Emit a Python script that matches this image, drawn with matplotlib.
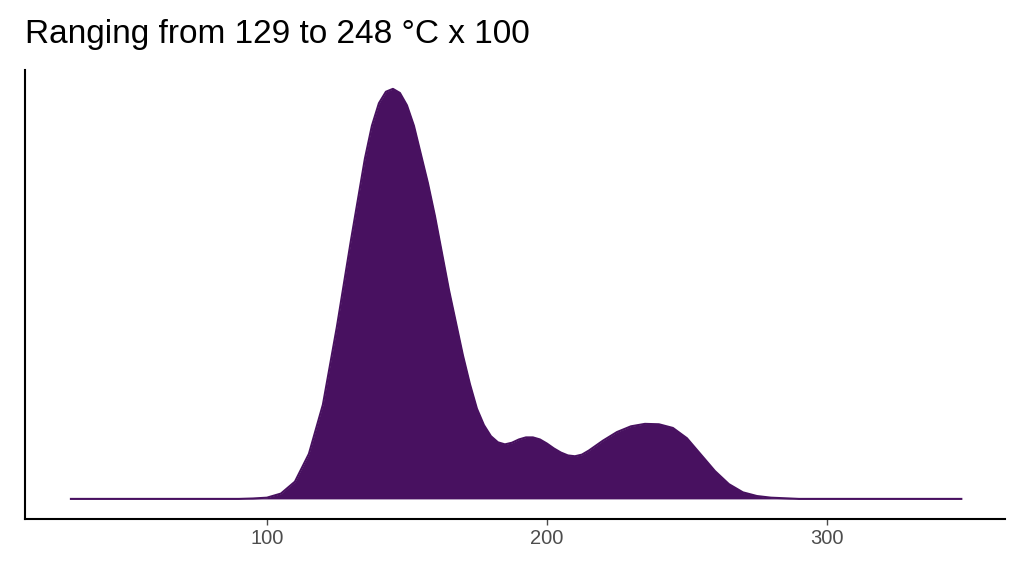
import matplotlib
matplotlib.use('Agg')
import matplotlib.pyplot as plt

plt.rcParams['font.family'] = ['Liberation Sans', 'DejaVu Sans']

# density curve (x in °C/100 units, y relative height)
temps = [30, 60, 90, 95, 100, 105, 110, 115, 120, 125, 130, 132.5, 135, 137.5, 140,
         142.5, 145, 147.5, 150, 152.5, 155, 157.5, 160, 162.5, 165, 167.5, 170,
         172.5, 175, 177.5, 180, 182.5, 185, 187.5, 190, 192.5, 195, 197.5, 200,
         202.5, 205, 207.5, 210, 212.5, 215, 220, 225, 230, 235, 240, 245, 250,
         255, 260, 265, 270, 275, 280, 290, 320, 348]
density = [0.0, 0.0, 0.0, 0.001, 0.003, 0.013, 0.042, 0.11, 0.23, 0.42, 0.63, 0.73,
           0.83, 0.91, 0.965, 0.993, 1.0, 0.99, 0.96, 0.91, 0.84, 0.77, 0.69, 0.6,
           0.51, 0.43, 0.35, 0.28, 0.22, 0.18, 0.153, 0.138, 0.133, 0.137, 0.145,
           0.15, 0.15, 0.145, 0.135, 0.123, 0.113, 0.106, 0.104, 0.108, 0.118, 0.142,
           0.163, 0.177, 0.183, 0.182, 0.173, 0.148, 0.108, 0.068, 0.036, 0.016,
           0.007, 0.003, 0.0, 0.0, 0.0]
xticks = [100, 200, 300]

fig = plt.figure(figsize=(10.24, 5.76), dpi=100)
ax = fig.add_axes([25/1024, 57/576, 980/1024, 449/576])
color = '#481160'
ax.fill_between(temps, 0, density, color=color, linewidth=0)
ax.plot(temps, density, color=color, lw=1.5, solid_joinstyle='round')

ax.set_xlim(13.6, 363.6)
ax.set_ylim(-0.049, 1.046)
ax.set_xticks(xticks)
ax.set_yticks([])
ax.tick_params(axis='x', colors='#4d4d4d', labelsize=14.5, length=4, width=1)
for s in ['top', 'right']:
    ax.spines[s].set_visible(False)
for s in ['left', 'bottom']:
    ax.spines[s].set_linewidth(1.5)

fig.text(25/1024, 1 - 35/576, 'Ranging from 129 to 248 °C x 100', fontsize=24,
         va='center', ha='left')

fig.savefig('out.png', dpi=100)
